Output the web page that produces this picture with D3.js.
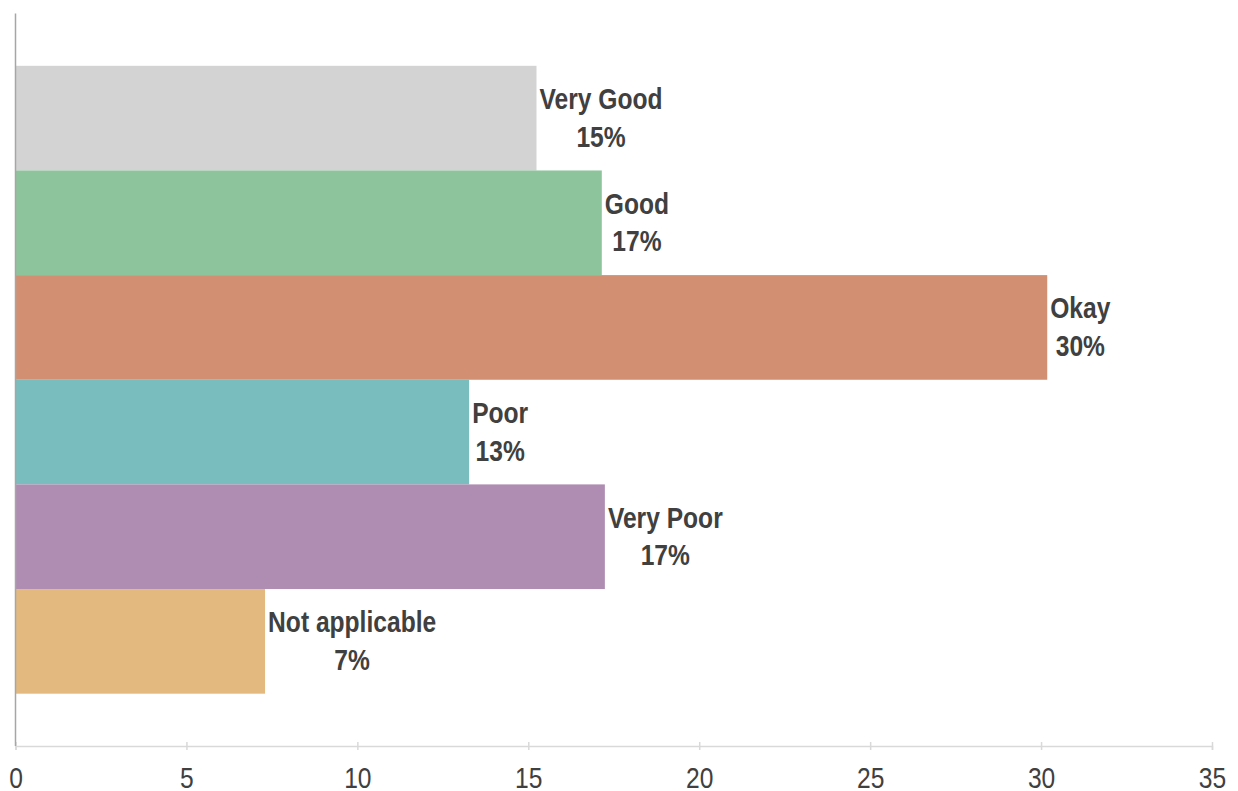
<!DOCTYPE html>
<html>
<head>
<meta charset="utf-8">
<script src="https://cdn.jsdelivr.net/npm/d3@7"></script>
<style>
  html, body { margin: 0; padding: 0; background: #fff; }
  svg { display: block; }
</style>
</head>
<body>
<svg id="chart" width="1238" height="791"></svg>
<script>
// Ratings and their share of responses (%)
const categories = ["Very Good", "Good", "Okay", "Poor", "Very Poor", "Not applicable"];
const values = [15.24, 17.15, 30.18, 13.27, 17.24, 7.30];
const labels = ["15%", "17%", "30%", "13%", "17%", "7%"];
const colors = ["#d3d3d3", "#8dc49b", "#d38f72", "#79bdbe", "#af8cb2", "#e3b97f"];
const xTicks = [0, 5, 10, 15, 20, 25, 30, 35];

const svg = d3.select("#chart");
const plot = { left: 15.5, right: 1212, top: 13.5, bottom: 746 };
// horizontal squeeze giving a condensed look to the sans-serif text
const squeeze = 0.82;

const x = d3.scaleLinear().domain([0, 35]).range([plot.left, plot.right]);
const y = d3.scaleBand().domain(categories).range([plot.top, plot.bottom])
  .paddingInner(0).paddingOuter(0.5);

const font = "'Liberation Sans', Arial, sans-serif";

// Bars
svg.append("g").selectAll("rect")
  .data(categories)
  .join("rect")
  .attr("x", x(0))
  .attr("y", d => y(d))
  .attr("width", (d, i) => x(values[i]) - x(0))
  .attr("height", y.bandwidth())
  .attr("fill", (d, i) => colors[i]);

// X axis
const xAxis = svg.append("g")
  .attr("transform", `translate(0,${plot.bottom})`)
  .call(d3.axisBottom(x).tickValues(xTicks).tickSize(4).tickPadding(17));
xAxis.select(".domain").attr("stroke", "#d9d9d9").attr("stroke-width", 1.5);
xAxis.selectAll(".tick line").attr("stroke", "#d9d9d9").attr("stroke-width", 1.5).attr("y1", -4);
xAxis.selectAll(".tick text")
  .attr("fill", "#404040")
  .attr("transform", `scale(${squeeze},1)`)
  .style("font-family", font)
  .style("font-size", "30px");

// Y axis line
svg.append("line")
  .attr("x1", plot.left).attr("x2", plot.left)
  .attr("y1", plot.top).attr("y2", plot.bottom)
  .attr("stroke", "#a6a6a6").attr("stroke-width", 1.5);

// Bar labels: category and percentage, two centred lines
const lab = svg.append("g").selectAll("text")
  .data(categories)
  .join("text")
  .attr("fill", "#404040")
  .style("font-family", font)
  .style("font-weight", "bold")
  .style("font-size", "30px")
  .attr("text-anchor", "middle");

lab.each(function(d, i) {
  const t = d3.select(this);
  const cy = y(d) + y.bandwidth() / 2;
  const l1 = t.append("tspan").text(d).attr("x", 0).attr("y", cy - 9);
  const l2 = t.append("tspan").text(labels[i]).attr("x", 0).attr("y", cy + 28.5);
  const w = squeeze * Math.max(l1.node().getComputedTextLength(), l2.node().getComputedTextLength());
  const cx = x(values[i]) + 3 + w / 2;
  t.attr("transform", `translate(${cx},0) scale(${squeeze},1)`);
});
</script>
</body>
</html>
